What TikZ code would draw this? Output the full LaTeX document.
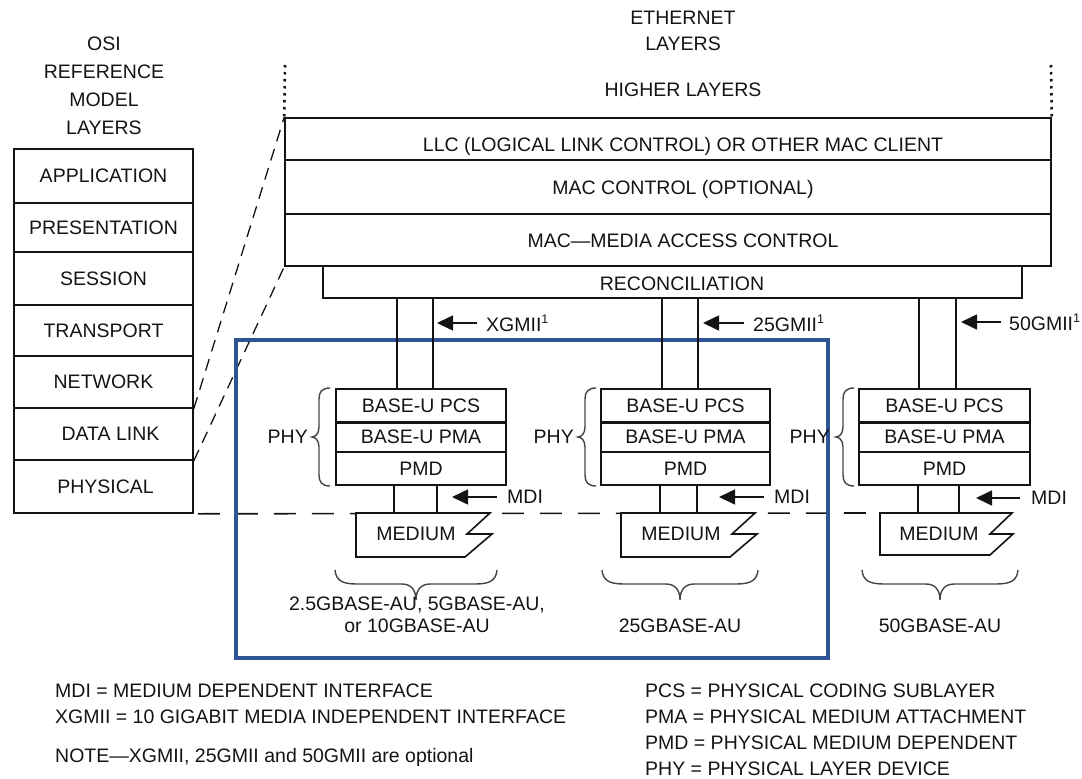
\documentclass[tikz,border=0pt]{standalone}
\usepackage{fontspec}
\setmainfont{Liberation Sans}
\usetikzlibrary{arrows.meta}
\definecolor{focusblue}{RGB}{47,84,150}
\definecolor{ink}{RGB}{20,20,20}
\begin{document}
\begin{tikzpicture}[x=1pt,y=-1pt,
  every node/.style={font=\fontsize{19.5}{23}\selectfont, text=ink, inner sep=0pt},
  osibox/.style={draw=ink, line width=1.6pt, minimum width=179pt, minimum height=#1},
  ethbox/.style={draw=ink, line width=1.6pt, minimum width=766pt, minimum height=#1},
  subbox/.style={draw=ink, line width=1.6pt, minimum width=170pt, minimum height=#1},
  wire/.style={draw=ink, line width=1.6pt},
  arr/.style={draw=ink, line width=1.6pt, -{Triangle[length=16pt,width=15pt]}},
  slant/.style={draw=ink, line width=1.3pt, dash pattern=on 12pt off 8pt},
  hdash/.style={draw=ink, line width=1.6pt, dash pattern=on 22pt off 16pt},
  dotline/.style={draw=ink, line width=2.6pt, dash pattern=on 2.5pt off 4.5pt},
  medshape/.style={draw=ink, line width=1.6pt, fill=white},
  bracepath/.style={draw=ink!80, line width=1.4pt},
  hbr/.pic={\draw[bracepath] (-#1,-30) .. controls (-#1+1,-19) and (-#1+8,-16) .. (-#1+22,-16) -- (-14,-16) .. controls (-5,-16) and (0,-10) .. (0,0) .. controls (0,-10) and (5,-16) .. (14,-16) -- (#1-22,-16) .. controls (#1-8,-16) and (#1-1,-19) .. (#1,-30);},
  vbr/.pic={\draw[bracepath] (18,-49) .. controls (10,-49) and (7,-45) .. (7,-38) -- (7,-10) .. controls (7,-3) and (3,0) .. (0,0) .. controls (3,0) and (7,3) .. (7,10) -- (7,38) .. controls (7,45) and (10,49) .. (18,49);}
]
\useasboundingbox (0,0) rectangle (1082,779);

% titles
\node[align=center, font=\fontsize{19.5}{28}\selectfont] (osititle) at (104,86) {OSI\\REFERENCE\\MODEL\\LAYERS};
\node[align=center, font=\fontsize{19.5}{26}\selectfont] (ethtitle) at (683,31) {ETHERNET\\LAYERS};
\node (higher) at (683,90) {HIGHER LAYERS};

% OSI stack
\node[osibox=54] (app) at (103.5,176) {APPLICATION};
\node[osibox=49] (pres) at (103.5,227.5) {PRESENTATION};
\node[osibox=53] (sess) at (103.5,278.5) {SESSION};
\node[osibox=51] (trans) at (103.5,330.5) {TRANSPORT};
\node[osibox=52] (net) at (103.5,382) {NETWORK};
\node[osibox=52] (dl) at (103.5,434) {\hspace*{14pt}DATA LINK};
\node[osibox=53] (phys) at (103.5,486.5) {\hspace*{4pt}PHYSICAL};

% Ethernet upper layers
\node[ethbox=42] (llc) at (668,139) {};
\node (llct) at (683,146) {LLC (LOGICAL LINK CONTROL) OR OTHER MAC CLIENT};
\node[ethbox=54] (macc) at (668,187) {};
\node (macct) at (683,189) {MAC CONTROL (OPTIONAL)};
\node[ethbox=52] (mac) at (668,240) {};
\node (mact) at (683,241) {MAC---MEDIA ACCESS CONTROL};
\node[draw=ink, line width=1.6pt, minimum width=699pt, minimum height=32pt] (recon) at (672.5,282) {};
\node (recont) at (682,284) {RECONCILIATION};

% dotted continuation lines
\coordinate (dtl) at (285,65);
\coordinate (dtr) at (1051,65);
\draw[dotline] (dtl) -- (llc.north west);
\draw[dotline] (dtr) -- (llc.north east);

% dashed mapping lines
\draw[slant] (net.south east) -- (llc.north west);
\draw[slant] (dl.south east) -- (mac.south west);

% horizontal dashed boundary
\coordinate (hend) at (880,513);
\draw[hdash] ([xshift=4pt]phys.south east) -- (hend);

% focus frame
\node[draw=focusblue, line width=3.5pt, minimum width=592pt, minimum height=318pt] (focus) at (532,499) {};

% ---------- PHY stack 1 ----------
\node[subbox=33] (pcs1) at (421,405.5) {BASE-U PCS};
\node[subbox=30] (pma1) at (421,437) {BASE-U PMA};
\node[subbox=33] (pmd1) at (421,468.5) {PMD};
\draw[draw=ink, line width=3pt] (pcs1.south west) -- (pcs1.south east);
% ---------- PHY stack 2 ----------
\node[subbox=33, minimum width=169pt] (pcs2) at (685.5,405.5) {BASE-U PCS};
\node[subbox=30, minimum width=169pt] (pma2) at (685.5,437) {BASE-U PMA};
\node[subbox=33, minimum width=169pt] (pmd2) at (685.5,468.5) {PMD};
\draw[draw=ink, line width=3pt] (pcs2.south west) -- (pcs2.south east);
% ---------- PHY stack 3 ----------
\node[subbox=33, minimum width=171pt] (pcs3) at (944.5,405.5) {BASE-U PCS};
\node[subbox=30, minimum width=171pt] (pma3) at (944.5,437) {BASE-U PMA};
\node[subbox=33, minimum width=171pt] (pmd3) at (944.5,468.5) {PMD};
\draw[draw=ink, line width=3pt] (pcs3.south west) -- (pcs3.south east);

% MII links
\coordinate (u1a) at (397,298); \coordinate (u1b) at (433,298);
\coordinate (u2a) at (662,298); \coordinate (u2b) at (698,298);
\coordinate (u3a) at (919,298); \coordinate (u3b) at (956,298);
\draw[wire] (recon.south -| u1a) -- (pcs1.north -| u1a);
\draw[wire] (recon.south -| u1b) -- (pcs1.north -| u1b);
\draw[wire] (recon.south -| u2a) -- (pcs2.north -| u2a);
\draw[wire] (recon.south -| u2b) -- (pcs2.north -| u2b);
\draw[wire] (recon.south -| u3a) -- (pcs3.north -| u3a);
\draw[wire] (recon.south -| u3b) -- (pcs3.north -| u3b);

\node[anchor=west] (xg) at (486,323) {XGMII\raisebox{8pt}{\fontsize{12.5}{12.5}\selectfont 1}};
\node[anchor=west] (g25) at (753,323) {25GMII\raisebox{8pt}{\fontsize{12.5}{12.5}\selectfont 1}};
\node[anchor=west] (g50) at (1009,322) {50GMII\raisebox{8pt}{\fontsize{12.5}{12.5}\selectfont 1}};
\draw[arr] ([xshift=-9pt]xg.west) -- ([xshift=-49pt]xg.west);
\draw[arr] ([xshift=-9pt]g25.west) -- ([xshift=-50pt]g25.west);
\draw[arr] ([xshift=-8pt]g50.west) -- ([xshift=-48pt]g50.west);

% MDI links
\coordinate (d1a) at (394,513); \coordinate (d1b) at (437,513);
\coordinate (d2a) at (660,513); \coordinate (d2b) at (697,513);
\coordinate (d3a) at (918,513); \coordinate (d3b) at (959,513);
\draw[wire] (pmd1.south -| d1a) -- (d1a);
\draw[wire] (pmd1.south -| d1b) -- (d1b);
\draw[wire] (pmd2.south -| d2a) -- (d2a);
\draw[wire] (pmd2.south -| d2b) -- (d2b);
\draw[wire] (pmd3.south -| d3a) -- (d3a);
\draw[wire] (pmd3.south -| d3b) -- (d3b);

\node[anchor=west] (mdi1) at (507,497) {MDI};
\node[anchor=west] (mdi2) at (774,497) {MDI};
\node[anchor=west] (mdi3) at (1031,498) {MDI};
\draw[arr] ([xshift=-10pt]mdi1.west) -- ([xshift=-55pt]mdi1.west);
\draw[arr] ([xshift=-10pt]mdi2.west) -- ([xshift=-55pt]mdi2.west);
\draw[arr] ([xshift=-11pt]mdi3.west) -- ([xshift=-55pt]mdi3.west);

% media
\coordinate (mc1) at (416,534);
\coordinate (mc2) at (681,534);
\coordinate (mc3) at (939,534);
\draw[medshape, shift={(mc1)}] (-60,-21) -- (74,-21) -- (51,0) -- (76,0) -- (49,23) -- (-60,23) -- cycle;
\draw[medshape, shift={(mc2)}] (-60,-21) -- (74,-21) -- (51,0) -- (76,0) -- (49,23) -- (-60,23) -- cycle;
\draw[medshape, shift={(mc3)}] (-59,-21) -- (73,-21) -- (51,0) -- (74,0) -- (51,21) -- (-59,21) -- cycle;
\node (med1) at (mc1) {MEDIUM};
\node (med2) at (mc2) {MEDIUM};
\node (med3) at (mc3) {MEDIUM};

% PHY braces
\pic at (312,437) {vbr};
\pic at (578,437) {vbr};
\pic at (836,437) {vbr};
\node[anchor=east] (phy1) at (308,437) {PHY};
\node[anchor=east] (phy2) at (574,437) {PHY};
\node[anchor=east] (phy3) at (830,437) {PHY};

% bottom braces
\pic at (416,600) {hbr=81};
\pic at (680,600) {hbr=78};
\pic at (940,600) {hbr=78};

\node[anchor=base, align=center, font=\fontsize{19.5}{22}\selectfont] (lab1) at (417,632) {2.5GBASE-AU, 5GBASE-AU,\\or 10GBASE-AU};
\node[anchor=base] (lab2) at (680,632) {25GBASE-AU};
\node[anchor=base] (lab3) at (940,632) {50GBASE-AU};

% footnotes
\node[anchor=base west] (fn1) at (55,697) {MDI = MEDIUM DEPENDENT INTERFACE};
\node[anchor=base west] (fn2) at (55,723) {XGMII = 10 GIGABIT MEDIA INDEPENDENT INTERFACE};
\node[anchor=base west] (fn3) at (55,762) {NOTE---XGMII, 25GMII and 50GMII are optional};
\node[anchor=base west] (fn4) at (645,697) {PCS = PHYSICAL CODING SUBLAYER};
\node[anchor=base west] (fn5) at (645,723) {PMA = PHYSICAL MEDIUM ATTACHMENT};
\node[anchor=base west] (fn6) at (645,749) {PMD = PHYSICAL MEDIUM DEPENDENT};
\node[anchor=base west] (fn7) at (645,775) {PHY = PHYSICAL LAYER DEVICE};
\end{tikzpicture}
\end{document}
